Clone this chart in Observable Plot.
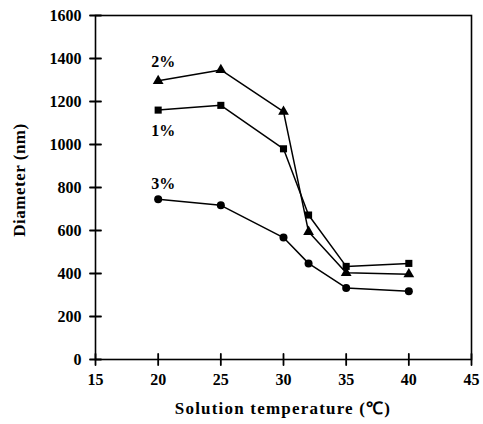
<!DOCTYPE html>
<html>
<head>
<meta charset="utf-8">
<script src="https://cdn.jsdelivr.net/npm/d3@7"></script>
<script src="https://cdn.jsdelivr.net/npm/@observablehq/plot@0.6"></script>
<style>
body { margin: 0; background: #fff; }
svg { font-family: "Liberation Serif", "Times New Roman", serif; }
</style>
</head>
<body>
<div id="chart"></div>
<script>
const temperatures = [20, 25, 30, 32, 35, 40];
const series1 = [1160, 1182, 980, 672, 433, 447];   // 1%
const series2 = [1296, 1347, 1153, 594, 403, 397];  // 2%
const series3 = [745, 717, 567, 447, 333, 318];     // 3%
const seriesNames = ["1%", "2%", "3%"];
const xTicks = [15, 20, 25, 30, 35, 40, 45];
const yTicks = [0, 200, 400, 600, 800, 1000, 1200, 1400, 1600];
const labelX = [20.4, 20.4, 20.4];
const labelY = [1065, 1385, 815];

const allSeries = [series1, series2, series3];
const data = [];
allSeries.forEach((vals, i) => vals.forEach((v, j) => data.push({t: temperatures[j], d: v, s: seriesNames[i]})));
const labels = seriesNames.map((s, i) => ({s, x: labelX[i], y: labelY[i]}));

const tickShape = {draw(context, l) { context.moveTo(0, 0); context.lineTo(0, -l); }};

const chart = Plot.plot({
  width: 483,
  height: 424,
  marginLeft: 95,
  marginRight: 12,
  marginTop: 15,
  marginBottom: 65,
  x: {domain: [15, 45]},
  y: {domain: [0, 1600]},
  symbol: {domain: seriesNames, range: ["square", "triangle", "circle"]},
  style: {fontFamily: "'Liberation Serif', 'Times New Roman', serif", fontWeight: "bold", color: "black", background: "white"},
  marks: [
    Plot.frame({stroke: "black", strokeWidth: 1.6}),
    Plot.vector(yTicks, {x: 15, y: d => d, length: 11, rotate: 90, anchor: "middle", shape: tickShape, stroke: "black", strokeWidth: 1.8}),
    Plot.vector(xTicks, {x: d => d, y: 0, length: 11, rotate: 0, anchor: "middle", shape: tickShape, stroke: "black", strokeWidth: 1.8}),
    Plot.axisX({ticks: xTicks, tickSize: 0, tickPadding: 14, tickFormat: d3.format("d"), fontSize: 16, fontWeight: "bold", label: null, letterSpacing: 1}),
    Plot.axisY({ticks: yTicks, tickSize: 0, tickPadding: 14, tickFormat: d3.format("d"), fontSize: 16, fontWeight: "bold", label: null, letterSpacing: 0.5}),
    Plot.line(data, {x: "t", y: "d", z: "s", stroke: "black", strokeWidth: 1.5}),
    Plot.dot(data, {x: "t", y: "d", symbol: "s", fill: "black", stroke: "none", r: 4}),
    Plot.text(labels, {x: "x", y: "y", text: "s", fontSize: 16, fontWeight: "bold", fill: "black"})
  ]
});

const svg = d3.select(chart);
svg.append("text")
  .attr("transform", "translate(21,180) rotate(-90)")
  .attr("text-anchor", "middle")
  .attr("dominant-baseline", "middle")
  .attr("font-size", 17)
  .attr("font-weight", "bold")
  .attr("letter-spacing", 0.5)
  .text("Diameter (nm)");
svg.append("text")
  .attr("x", 283)
  .attr("y", 410)
  .attr("text-anchor", "middle")
  .attr("dominant-baseline", "middle")
  .attr("font-size", 17)
  .attr("font-weight", "bold")
  .attr("letter-spacing", 1.2)
  .text("Solution temperature (℃)");

document.getElementById("chart").appendChild(chart);
</script>
</body>
</html>
